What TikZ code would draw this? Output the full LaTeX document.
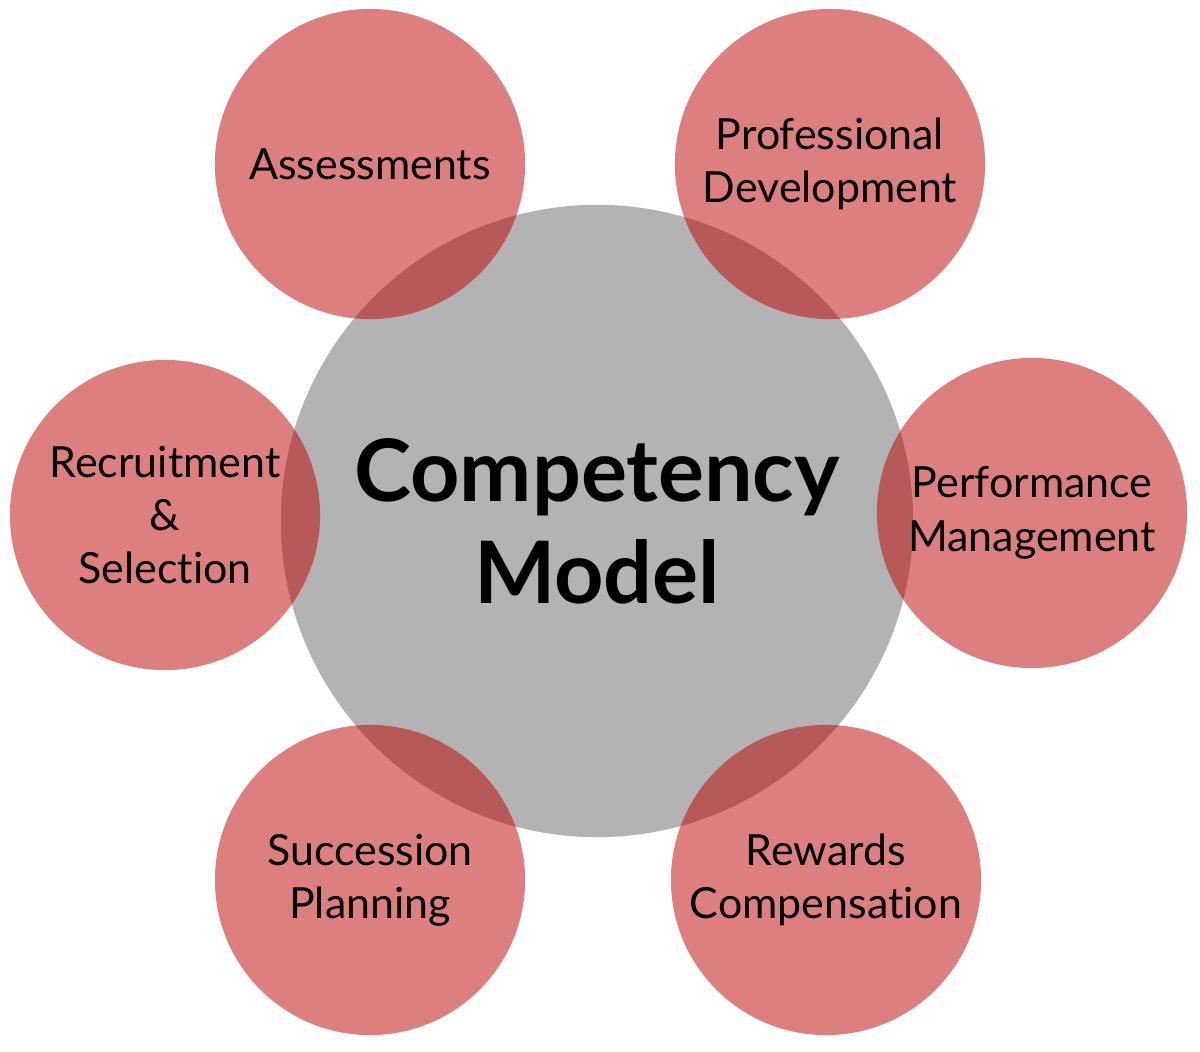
\documentclass[tikz,border=0pt]{standalone}
\usepackage{fontspec}
\setmainfont[Ligatures=NoCommon]{Lato}
\definecolor{hubgray}{RGB}{179,179,179}
\definecolor{spokered}{RGB}{189,0,0}
\begin{document}
\begin{tikzpicture}
    [ x=0.01cm, y=-0.01cm
    , hub/.style={circle,fill=hubgray,minimum size=6.32cm,inner sep=0pt,align=center,font=\bfseries\fontsize{24.5}{29}\selectfont}
    , spoke/.style={circle,fill=spokered,fill opacity=0.5,text opacity=1,minimum size=3.1cm,inner sep=0pt,align=center,font=\fontsize{12.2}{15.2}\selectfont}
    ]

    \useasboundingbox (0,0) rectangle (1200,1052);

    \node [hub] (model) at (597,521) {Competency\\Model};

    \node [spoke] (assess)  at (370,164)  {Assessments};
    \node [spoke] (profdev) at (830,164)  {Professional\\Development};
    \node [spoke] (recruit) at (165,515)  {Recruitment\\\&\\Selection};
    \node [spoke] (perform) at (1032,513) {Performance\\Management};
    \node [spoke] (success) at (370,880)  {Succession\\Planning};
    \node [spoke] (rewards) at (826,880)  {Rewards\\Compensation};
  \end{tikzpicture}
\end{document}
